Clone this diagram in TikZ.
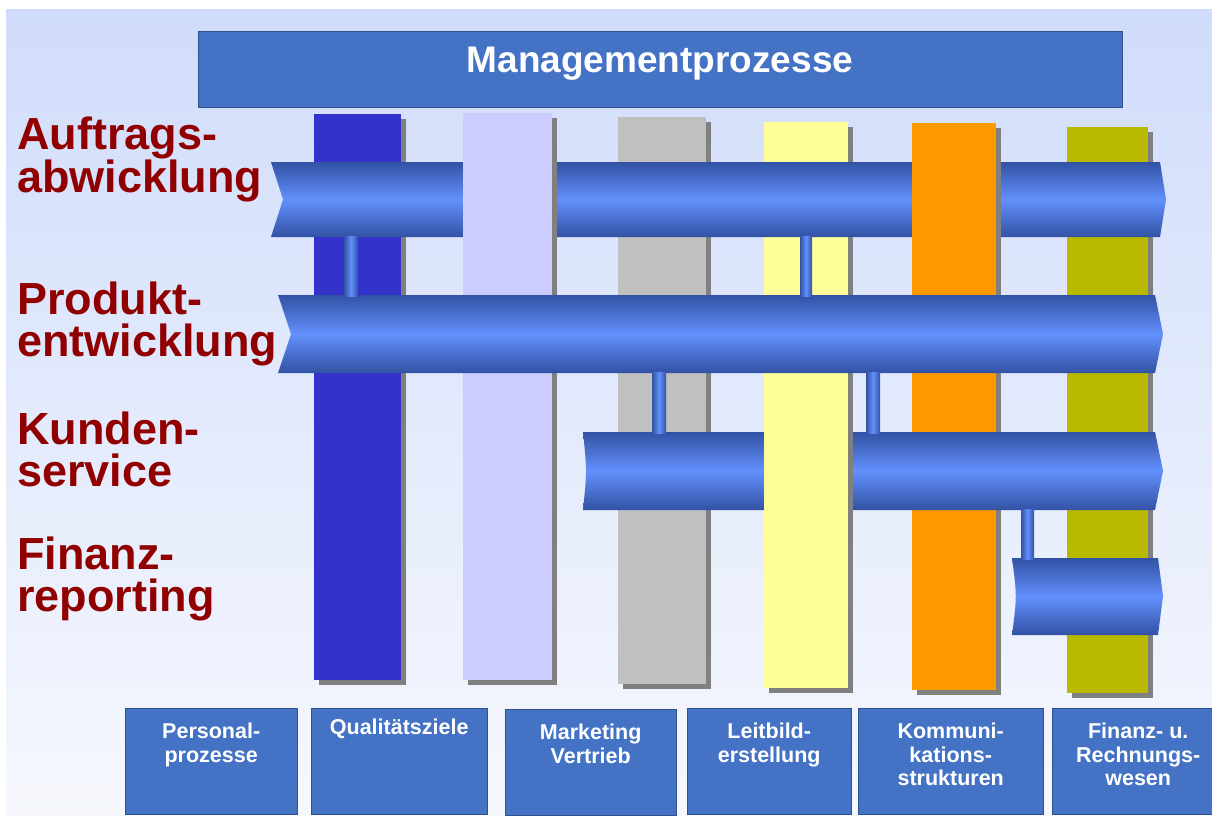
\documentclass[tikz,border=0pt]{standalone}
\usepackage{fontspec}
\setmainfont{Liberation Sans}
\usetikzlibrary{positioning,shadows}

\definecolor{bgtop}{RGB}{208,220,251}
\definecolor{bgbottom}{RGB}{246,248,253}
\definecolor{pipedark}{RGB}{50,82,164}
\definecolor{pipelight}{RGB}{98,144,252}
\definecolor{boxblue}{RGB}{68,114,196}
\definecolor{boxline}{RGB}{47,82,143}
\definecolor{lanered}{RGB}{145,0,0}
\definecolor{pillarA}{RGB}{51,51,204}
\definecolor{pillarB}{RGB}{204,204,255}
\definecolor{pillarC}{RGB}{192,192,192}
\definecolor{pillarD}{RGB}{255,255,153}
\definecolor{pillarE}{RGB}{255,153,0}
\definecolor{pillarF}{RGB}{185,185,0}

\begin{document}
\begin{tikzpicture}[x=1pt, y=-1pt,
		pillar/.style={drop shadow={shadow xshift=5pt, shadow yshift=-5pt, fill=black!50, opacity=1}},
		pipe/.style={top color=pipedark, bottom color=pipedark, middle color=pipelight},
		link/.style={left color=pipedark, right color=pipedark, middle color=pipelight},
		catbox/.style={draw=boxline, fill=boxblue, anchor=north west, inner sep=0pt, minimum height=106pt},
		cattext/.style={text=white, font=\fontsize{21.5}{23.5}\selectfont\bfseries, align=center, inner sep=0pt},
		lanetext/.style={text=lanered, font=\fontsize{45}{42}\selectfont\bfseries, align=left, anchor=north west, inner sep=0pt}]
				\useasboundingbox (0,0) rectangle (1212,816);
				\shade[top color=bgtop, bottom color=bgbottom] (6,10) rectangle (1212,816);
				
				% Saeulen hinter den Prozessen
				\fill[pillarA, pillar] (314,114) rectangle (401,680);
				\fill[pillarC, pillar] (618,117) rectangle (706,684);
				\fill[pillarD, pillar] (764,122) rectangle (848,688);
				\fill[pillarF, pillar] (1067,127) rectangle (1148,693);
				
				\shade[pipe] (271,162) -- (1160,162) -- (1166,199.5) -- (1160,237) -- (271,237) -- (283,199.5) -- cycle;
				
				\fill[pillarB, pillar] (463,113) rectangle (552,680);
				\fill[pillarE, pillar] (912,123) rectangle (996,690);
				
				% Prozesse
				\shade[pipe] (278,295) -- (1155,295) -- (1163,334) -- (1155,373) -- (278,373) -- (291,334) -- cycle;
				\shade[pipe] (583,432) -- (764,432) -- (764,510) -- (583,510) .. controls (587,471) .. (583,432);
				\shade[pipe] (853,432) -- (1155,432) -- (1163,471) -- (1155,510) -- (853,510) -- cycle;
				\shade[pipe] (1012,558) -- (1158,558) -- (1163,596) -- (1158,635) -- (1012,635) .. controls (1017,596) .. (1012,558);
				
				\shade[link] (344,236) rectangle (358,296);
				\shade[link] (800,236) rectangle (812,296);
				\shade[link] (652,372) rectangle (666,433);
				\shade[link] (866,372) rectangle (880,433);
				\shade[link] (1021,509) rectangle (1034,559);
				
				\node[draw=boxline, fill=boxblue, text=white, font=\fontsize{37}{40}\selectfont\bfseries, inner sep=0pt, minimum width=924pt, text height=42pt, text depth=34pt, anchor=base] (mgmt) at (660,73) {Managementprozesse};
				
				\node[lanetext] (auftrag) at (17,117) {Auftrags-\\abwicklung};
				\node[lanetext] (produkt) at (17,282) {Produkt-\\entwicklung};
				\node[lanetext] (kunden) at (17,412) {Kunden-\\service};
				\node[lanetext] (finanz) at (17,537) {Finanz-\\reporting};
				
				\node[catbox, minimum width=172pt] (personal) at (125,708) {};
				\node[catbox, minimum width=176pt] (quali) at (311,708) {};
				\node[catbox, minimum width=171pt] (marketing) at (505,709) {};
				\node[catbox, minimum width=164pt] (leitbild) at (687,708) {};
				\node[catbox, minimum width=185pt] (kommu) at (858,708) {};
				\node[catbox, minimum width=172pt] (rewe) at (1052,708) {};
				
				\node[cattext, below=15pt of personal.north] (personaltext) {Personal-\\prozesse};
				\node[cattext, below=11pt of quali.north] (qualitext) {Qualitätsziele};
				\node[cattext, below=15pt of marketing.north] (marketingtext) {Marketing\\Vertrieb};
				\node[cattext, below=15pt of leitbild.north] (leitbildtext) {Leitbild-\\erstellung};
				\node[cattext, below=15pt of kommu.north] (kommutext) {Kommuni-\\kations-\\strukturen};
				\node[cattext, below=15pt of rewe.north] (rewetext) {Finanz- u.\\Rechnungs-\\wesen};
			\end{tikzpicture}
\end{document}
